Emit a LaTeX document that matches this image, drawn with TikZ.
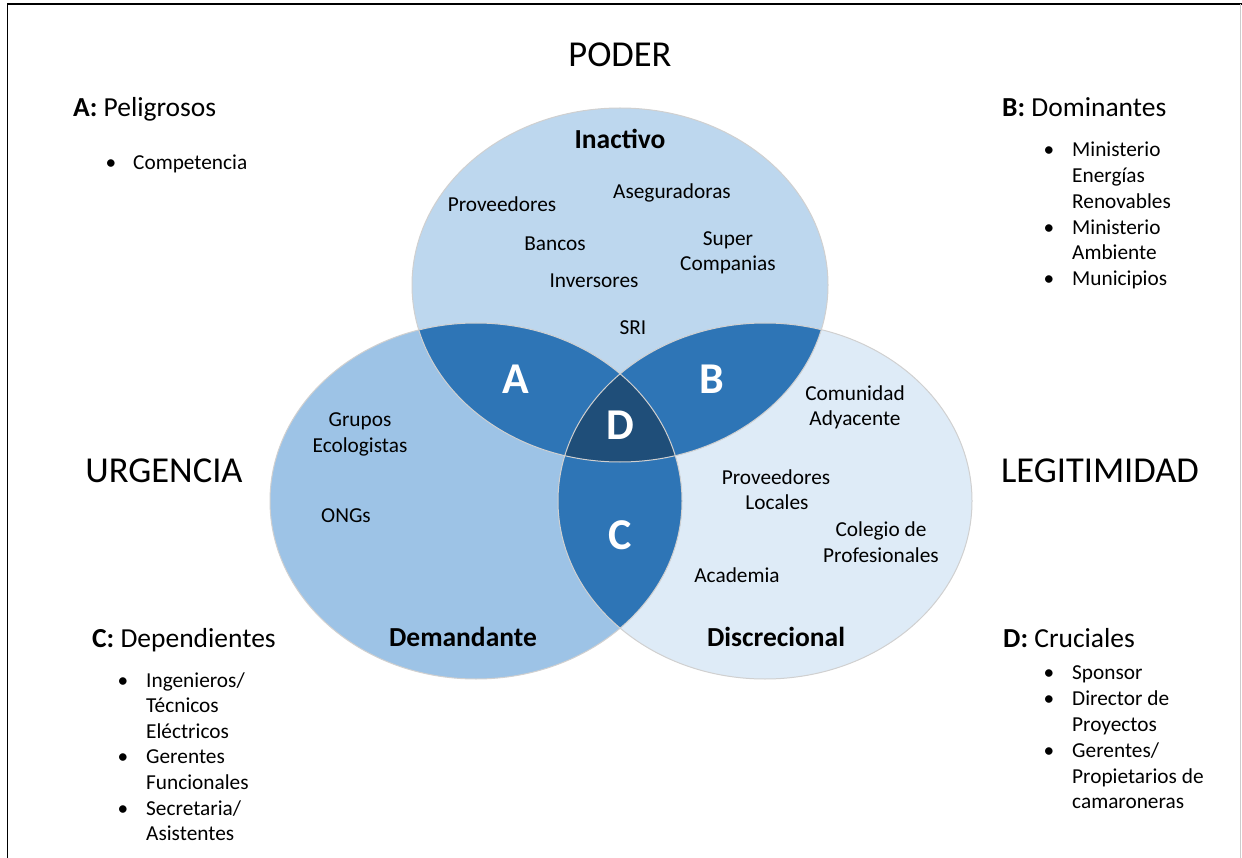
\documentclass[tikz,border=0pt]{standalone}
\usepackage{fontspec}
\setmainfont{Carlito}
\definecolor{topc}{HTML}{BDD7EE}
\definecolor{leftc}{HTML}{9DC3E6}
\definecolor{rightc}{HTML}{DEEBF7}
\definecolor{pairc}{HTML}{2E75B6}
\definecolor{triplec}{HTML}{1F4E79}
\definecolor{edgec}{HTML}{D0D0D0}
\tikzset{
  title/.style={font=\fontsize{36.5}{40}\selectfont, anchor=base, inner sep=0pt},
  head/.style={font=\fontsize{27.5}{30}\selectfont, anchor=base west, inner sep=0pt},
  item/.style={font=\fontsize{21.3}{25}\selectfont, anchor=base west, inner sep=0pt},
  bul/.style={font=\fontsize{21.3}{25}\selectfont, anchor=base, inner sep=0pt},
  ctext/.style={font=\fontsize{21.3}{25}\selectfont, anchor=base, inner sep=0pt},
  cbold/.style={font=\fontsize{27.5}{30}\selectfont\bfseries, anchor=base, inner sep=0pt},
  big/.style={font=\fontsize{44}{50}\selectfont\bfseries, anchor=base, inner sep=0pt, text=white},
}
\begin{document}
\begin{tikzpicture}[x=1pt,y=-1pt]
\useasboundingbox (0,0) rectangle (1242,858);
% frame
\draw[line width=1.5pt] (7.5,858) -- (7.5,4) -- (1242,4);
\draw[line width=1pt, gray!40] (1240.5,4) -- (1240.5,858);
% ellipses
\def\topE{(620,285) ellipse [x radius=208pt, y radius=177pt]}
\def\leftE{(476,501) ellipse [x radius=206pt, y radius=178pt]}
\def\rightE{(765,501) ellipse [x radius=207pt, y radius=178pt]}
\fill[topc] \topE;
\fill[leftc] \leftE;
\fill[rightc] \rightE;
\begin{scope}
  \clip \topE;
  \fill[pairc] \leftE;
  \fill[pairc] \rightE;
  \clip \leftE;
  \fill[triplec] \rightE;
\end{scope}
\begin{scope}
  \clip \leftE;
  \fill[pairc] \rightE;
  \clip \topE;
  \fill[triplec] \rightE;
\end{scope}
\draw[edgec, line width=1pt] \topE;
\draw[edgec, line width=1pt] \leftE;
\draw[edgec, line width=1pt] \rightE;
% titles
\node[title] (poder) at (620,67) {PODER};
\node[title] (urg) at (164,482) {URGENCIA};
\node[title] (leg) at (1100,482) {LEGITIMIDAD};
% A list
\node[head] (ha) at (73,117) {\textbf{A:} Peligrosos};
\node[bul] (ba1) at (111,170) {•};
\node[item] (ia1) at (133,170) {Competencia};
% B list
\node[head] (hb) at (1002,117) {\textbf{B:} Dominantes};
\node[bul] (bb1) at (1049,157) {•};
\node[item] (ib1) at (1072,157) {Ministerio};
\node[item] (ib2) at (1072,183) {Energías};
\node[item] (ib3) at (1072,209) {Renovables};
\node[bul] (bb2) at (1049,235) {•};
\node[item] (ib4) at (1072,235) {Ministerio};
\node[item] (ib5) at (1072,260) {Ambiente};
\node[bul] (bb3) at (1049,286) {•};
\node[item] (ib6) at (1072,286) {Municipios};
% C list
\node[head] (hc) at (92,647) {\textbf{C:} Dependientes};
\node[bul] (bc1) at (123,687) {•};
\node[item] (ic1) at (146,687) {Ingenieros/};
\node[item] (ic2) at (146,712) {Técnicos};
\node[item] (ic3) at (146,738) {Eléctricos};
\node[bul] (bc2) at (123,763) {•};
\node[item] (ic4) at (146,763) {Gerentes};
\node[item] (ic5) at (146,789) {Funcionales};
\node[bul] (bc3) at (123,815) {•};
\node[item] (ic6) at (146,815) {Secretaria/};
\node[item] (ic7) at (146,840) {Asistentes};
% D list
\node[head] (hd) at (1003,647) {\textbf{D:} Cruciales};
\node[bul] (bd1) at (1049,679) {•};
\node[item] (id1) at (1072,679) {Sponsor};
\node[bul] (bd2) at (1049,705) {•};
\node[item] (id2) at (1072,705) {Director de};
\node[item] (id3) at (1072,731) {Proyectos};
\node[bul] (bd3) at (1049,757) {•};
\node[item] (id4) at (1072,757) {Gerentes/};
\node[item] (id5) at (1072,783) {Propietarios de};
\node[item] (id6) at (1072,808) {camaroneras};
% circle texts: top
\node[cbold] (inact) at (620,149) {Inactivo};
\node[ctext] (prov) at (502,212) {Proveedores};
\node[ctext] (aseg) at (672,199) {Aseguradoras};
\node[ctext] (banc) at (555,251) {Bancos};
\node[ctext] (sup1) at (728,246) {Super};
\node[ctext] (sup2) at (728,271) {Companias};
\node[ctext] (inv) at (594,288) {Inversores};
\node[ctext] (sri) at (633,335) {SRI};
% left
\node[ctext] (gr1) at (360,426) {Grupos};
\node[ctext] (gr2) at (360,452) {Ecologistas};
\node[ctext] (ong) at (346,522) {ONGs};
\node[cbold] (dem) at (463,646) {Demandante};
% right
\node[ctext] (com1) at (855,400) {Comunidad};
\node[ctext] (com2) at (855,425) {Adyacente};
\node[ctext] (pl1) at (776,484) {Proveedores};
\node[ctext] (pl2) at (777,509) {Locales};
\node[ctext] (col1) at (881,536) {Colegio de};
\node[ctext] (col2) at (881,562) {Profesionales};
\node[ctext] (acad) at (737,582) {Academia};
\node[cbold] (disc) at (776,646) {Discrecional};
% big letters
\node[big] (la) at (516,393) {A};
\node[big] (lb) at (712,393) {B};
\node[big] (ld) at (620,439) {D};
\node[big] (lc) at (620,549) {C};
\end{tikzpicture}
\end{document}
